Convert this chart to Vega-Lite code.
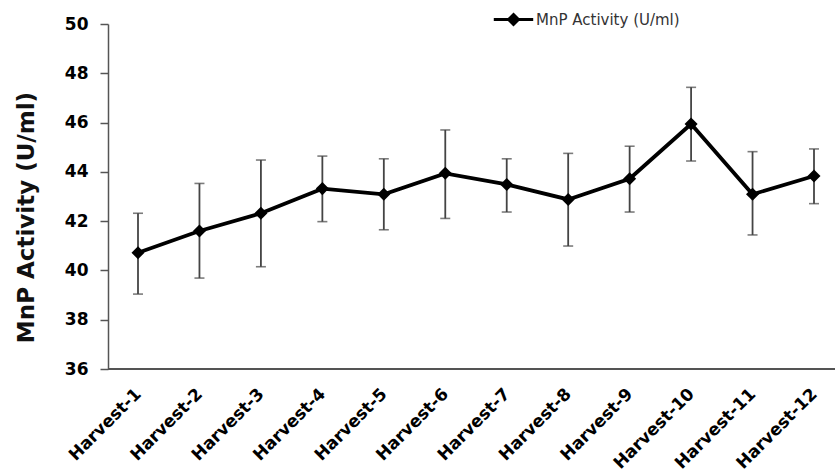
{
  "$schema": "https://vega.github.io/schema/vega-lite/v6.json",
  "autosize": {"type": "none"},
  "padding": {"left": 108, "top": 24, "right": 0, "bottom": 106},
  "width": 727,
  "height": 345,
  "background": "white",
  "config": {"view": {"stroke": null}},
  "data": {"values": [
    {"harvest": "Harvest-1", "mean": 40.72, "lo": 39.04, "hi": 42.32},
    {"harvest": "Harvest-2", "mean": 41.6, "lo": 39.69, "hi": 43.53},
    {"harvest": "Harvest-3", "mean": 42.32, "lo": 40.15, "hi": 44.48},
    {"harvest": "Harvest-4", "mean": 43.32, "lo": 41.98, "hi": 44.64},
    {"harvest": "Harvest-5", "mean": 43.09, "lo": 41.65, "hi": 44.53},
    {"harvest": "Harvest-6", "mean": 43.94, "lo": 42.11, "hi": 45.7},
    {"harvest": "Harvest-7", "mean": 43.49, "lo": 42.37, "hi": 44.53},
    {"harvest": "Harvest-8", "mean": 42.88, "lo": 40.99, "hi": 44.75},
    {"harvest": "Harvest-9", "mean": 43.72, "lo": 42.37, "hi": 45.04},
    {"harvest": "Harvest-10", "mean": 45.94, "lo": 44.44, "hi": 47.43},
    {"harvest": "Harvest-11", "mean": 43.09, "lo": 41.44, "hi": 44.82},
    {"harvest": "Harvest-12", "mean": 43.83, "lo": 42.71, "hi": 44.93}
  ]},
  "layer": [
    {
      "mark": {"type": "rule", "color": "#555", "strokeWidth": 1.5},
      "encoding": {"y": {"datum": 36, "type": "quantitative"}}
    },
    {
      "mark": {"type": "errorbar", "ticks": {"size": 10, "color": "#444", "thickness": 1.6}, "rule": {"color": "#444", "strokeWidth": 1.8}},
      "encoding": {
        "x": {
          "field": "harvest", "type": "ordinal", "sort": null,
          "scale": {"type": "point", "range": [30, 706], "padding": 0},
          "axis": {
            "title": null, "labelAngle": -45, "labelAlign": "right", "labelBaseline": "middle",
            "labelFont": "DejaVu Sans", "labelFontWeight": "bold", "labelFontSize": 17, "labelColor": "black",
            "labelPadding": 22, "ticks": false, "domain": false, "grid": false
          }
        },
        "y": {"field": "lo", "type": "quantitative",
          "scale": {"domain": [36, 50], "nice": false, "zero": false},
          "axis": {
            "title": "MnP Activity (U/ml)", "values": [36, 38, 40, 42, 44, 46, 48, 50],
            "titleFont": "DejaVu Sans", "titleFontSize": 23, "titleFontWeight": "bold", "titleColor": "#111",
            "titleX": -82, "titleY": 193, "titleAlign": "center", "titleBaseline": "middle", "titleAngle": -90,
            "labelFont": "DejaVu Sans", "labelFontWeight": "bold", "labelFontSize": 17, "labelColor": "black",
            "labelPadding": 12, "tickSize": 8, "tickColor": "#555", "tickWidth": 1.5,
            "domainColor": "#555", "domainWidth": 1.5, "grid": false
          }
        },
        "y2": {"field": "hi"}
      }
    },
    {
      "mark": {"type": "line", "strokeWidth": 3.8, "color": "black"},
      "encoding": {
        "x": {"field": "harvest", "type": "ordinal", "sort": null},
        "y": {"field": "mean", "type": "quantitative"},
        "color": {"datum": "MnP Activity (U/ml)", "type": "nominal",
          "scale": {"range": ["black"]},
          "legend": {
            "title": null, "orient": "none", "legendX": 393, "legendY": -17,
            "symbolType": "M-1.8,0H1.8M0,-0.45L0.45,0L0,0.45L-0.45,0Z",
            "symbolSize": 480, "symbolStrokeWidth": 3, "symbolFillColor": "black", "symbolStrokeColor": "black",
            "labelFont": "DejaVu Sans", "labelFontSize": 15, "labelColor": "#333", "labelOffset": 10
          }
        }
      }
    },
    {
      "mark": {"type": "point", "shape": "diamond", "filled": true, "size": 170, "color": "black", "opacity": 1},
      "encoding": {
        "x": {"field": "harvest", "type": "ordinal", "sort": null},
        "y": {"field": "mean", "type": "quantitative"}
      }
    }
  ]
}
